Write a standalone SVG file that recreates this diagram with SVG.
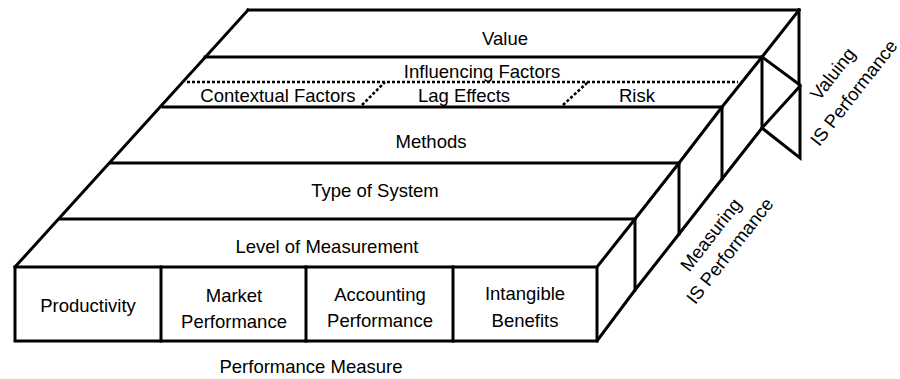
<svg xmlns="http://www.w3.org/2000/svg" width="900" height="379" viewBox="0 0 900 379">
<style>
.ln{fill:none;stroke:#000;stroke-width:3;stroke-linejoin:miter;stroke-linecap:square}
.dot{fill:none;stroke:#000;stroke-width:2.6;stroke-dasharray:3 2}
text{font-family:"Liberation Sans",Arial,sans-serif;font-size:18.5px;fill:#000;text-anchor:middle}
</style>
<rect width="900" height="379" fill="#fff"/>
<g id="connectors">
<polyline class="ln" points="248,10 15,267"/>
<polyline class="ln" points="799,10 762,57 722,107 679,163 635,219 597,267"/>
<polyline class="ln" points="597,341 635,290 679,234 722,179 762,128 800,86"/>
</g>
<g id="value">
<line class="ln" x1="248" y1="10" x2="799" y2="10"/>
<line class="ln" x1="799" y1="10" x2="799" y2="84"/>
<text x="505" y="45">Value</text>
</g>
<g id="influencing-factors">
<line class="ln" x1="205" y1="57" x2="762" y2="57"/>
<line class="ln" x1="762" y1="57" x2="762" y2="128"/>
<line class="dot" x1="187" y1="82" x2="738" y2="82"/>
<line class="dot" x1="362" y1="105" x2="385" y2="82"/>
<line class="dot" x1="563" y1="105" x2="588" y2="82"/>
<text x="482" y="78">Influencing Factors</text>
<text x="278" y="102">Contextual Factors</text>
<text x="464" y="102">Lag Effects</text>
<text x="637" y="102">Risk</text>
</g>
<g id="valuing">
<polyline class="ln" points="762,57 800,85 800,158 762,128"/>
<text transform="translate(833,74) rotate(-52)" y="6">Valuing</text>
<text transform="translate(854,93) rotate(-52)" y="6">IS Performance</text>
</g>
<g id="methods">
<line class="ln" x1="163" y1="107" x2="722" y2="107"/>
<line class="ln" x1="722" y1="107" x2="722" y2="179"/>
<text x="431" y="148">Methods</text>
</g>
<g id="type-of-system">
<line class="ln" x1="111" y1="163" x2="679" y2="163"/>
<line class="ln" x1="679" y1="163" x2="679" y2="234"/>
<text x="375" y="197">Type of System</text>
</g>
<g id="level-of-measurement">
<line class="ln" x1="60" y1="219" x2="635" y2="219"/>
<line class="ln" x1="635" y1="219" x2="635" y2="290"/>
<text x="327" y="253">Level of Measurement</text>
</g>
<g id="measuring">
<text transform="translate(711,235) rotate(-52)" y="6">Measuring</text>
<text transform="translate(730,251) rotate(-52)" y="6">IS Performance</text>
</g>
<g id="performance-measure">
<rect class="ln" x="15" y="267" width="582" height="74"/>
<line class="ln" x1="161" y1="267" x2="161" y2="341"/>
<line class="ln" x1="306" y1="267" x2="306" y2="341"/>
<line class="ln" x1="453" y1="267" x2="453" y2="341"/>
<text x="88" y="312">Productivity</text>
<text x="234" y="302">Market</text>
<text x="234" y="328">Performance</text>
<text x="380" y="301">Accounting</text>
<text x="380" y="327">Performance</text>
<text x="525" y="300">Intangible</text>
<text x="525" y="327">Benefits</text>
<text x="311" y="373">Performance Measure</text>
</g>
</svg>
